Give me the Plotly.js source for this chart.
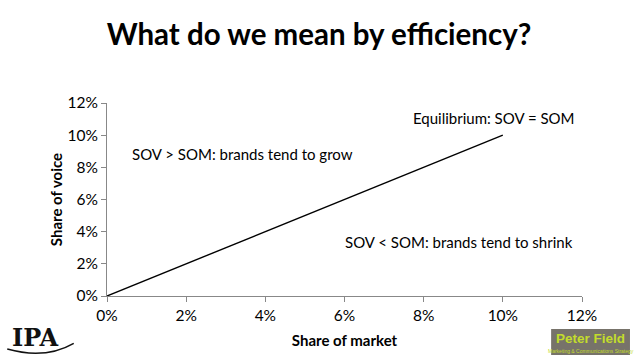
<!DOCTYPE html>
<html><head><meta charset="utf-8">
<script src="https://cdn.plot.ly/plotly-3.0.1.min.js"></script>
<style>html,body{margin:0;padding:0;background:#fff}#chart{width:638px;height:359px}</style>
</head><body><div id="chart"></div>
<script>
const shareOfMarket = [0, 0.10];
const shareOfVoice = [0, 0.10];
const tickVals = [0, 0.02, 0.04, 0.06, 0.08, 0.10, 0.12];
const tickLabels = ['0%', '2%', '4%', '6%', '8%', '10%', '12%'];
const notes = [
  {x: 0.1188, y: 0.1107, text: 'Equilibrium: SOV = SOM', xanchor: 'right'},
  {x: 0.0058, y: 0.0883, text: 'SOV > SOM: brands tend to grow', xanchor: 'left'},
  {x: 0.0596, y: 0.0336, text: 'SOV < SOM: brands tend to shrink', xanchor: 'left'}
];
const F = 'Lato, "Open Sans", sans-serif';
const trace = {x: shareOfMarket, y: shareOfVoice, mode: 'lines', type: 'scatter',
  line: {color: '#000', width: 1.4}, hoverinfo: 'skip'};
const axisCommon = {range: [0, 0.12], tickvals: tickVals, ticktext: tickLabels,
  showgrid: false, zeroline: false, showline: true, linecolor: '#888', linewidth: 1,
  ticks: 'outside', ticklen: 5, tickcolor: '#888', tickfont: {family: F, size: 15.5, color: '#000'}, fixedrange: true};
const layout = {
  width: 638, height: 359, paper_bgcolor: '#fff', plot_bgcolor: '#fff', showlegend: false,
  margin: {l: 107, r: 56, t: 103, b: 63},
  title: {text: '<b>What do we mean by efficiency?</b>', x: 0.5, xanchor: 'center', y: 0.9025, yanchor: 'middle',
    font: {family: F, size: 29.5, color: '#000'}},
  xaxis: Object.assign({}, axisCommon, {title: {text: '<b>Share of market</b>', standoff: 12, font: {family: F, size: 15, color: '#000'}}}),
  yaxis: Object.assign({}, axisCommon, {title: {text: '<b>Share of voice</b>', standoff: 1, font: {family: F, size: 15, color: '#000'}}}),
  annotations: notes.map(n => ({x: n.x, y: n.y, xref: 'x', yref: 'y', text: n.text, showarrow: false,
    xanchor: n.xanchor, yanchor: 'middle', font: {family: F, size: 15, color: '#000'}})).concat([
    {xref: 'paper', yref: 'paper', x: -0.205, y: -0.215, text: '<b>IPA</b>', showarrow: false, xanchor: 'left', yanchor: 'middle',
      font: {family: '"DejaVu Serif", "Liberation Serif", serif', size: 24, color: '#111'}},
    {xref: 'paper', yref: 'paper', x: 1.018, y: -0.222, text: '<b>Peter Field</b>', showarrow: false, xanchor: 'center', yanchor: 'middle',
      font: {family: '"Liberation Sans", Arial, sans-serif', size: 13.5, color: '#c3dc2c'}},
    {xref: 'paper', yref: 'paper', x: 1.018, y: -0.283, text: 'Marketing &amp; Communications Strategy', showarrow: false, xanchor: 'center', yanchor: 'middle',
      font: {family: '"Liberation Sans", Arial, sans-serif', size: 5, color: '#c3dc2c'}}
  ]),
  shapes: [
    {type: 'rect', xref: 'paper', yref: 'paper', x0: 0.935, x1: 1.101, y0: -0.306, y1: -0.171, fillcolor: '#77736a', line: {width: 0}, layer: 'below'},
    {type: 'path', xref: 'paper', yref: 'paper', path: 'M -0.21 -0.275 Q -0.13 -0.33 -0.07 -0.245', line: {color: '#111', width: 1.5}}
  ]
};
Plotly.newPlot('chart', [trace], layout, {displayModeBar: false, staticPlot: true});
</script></body></html>
